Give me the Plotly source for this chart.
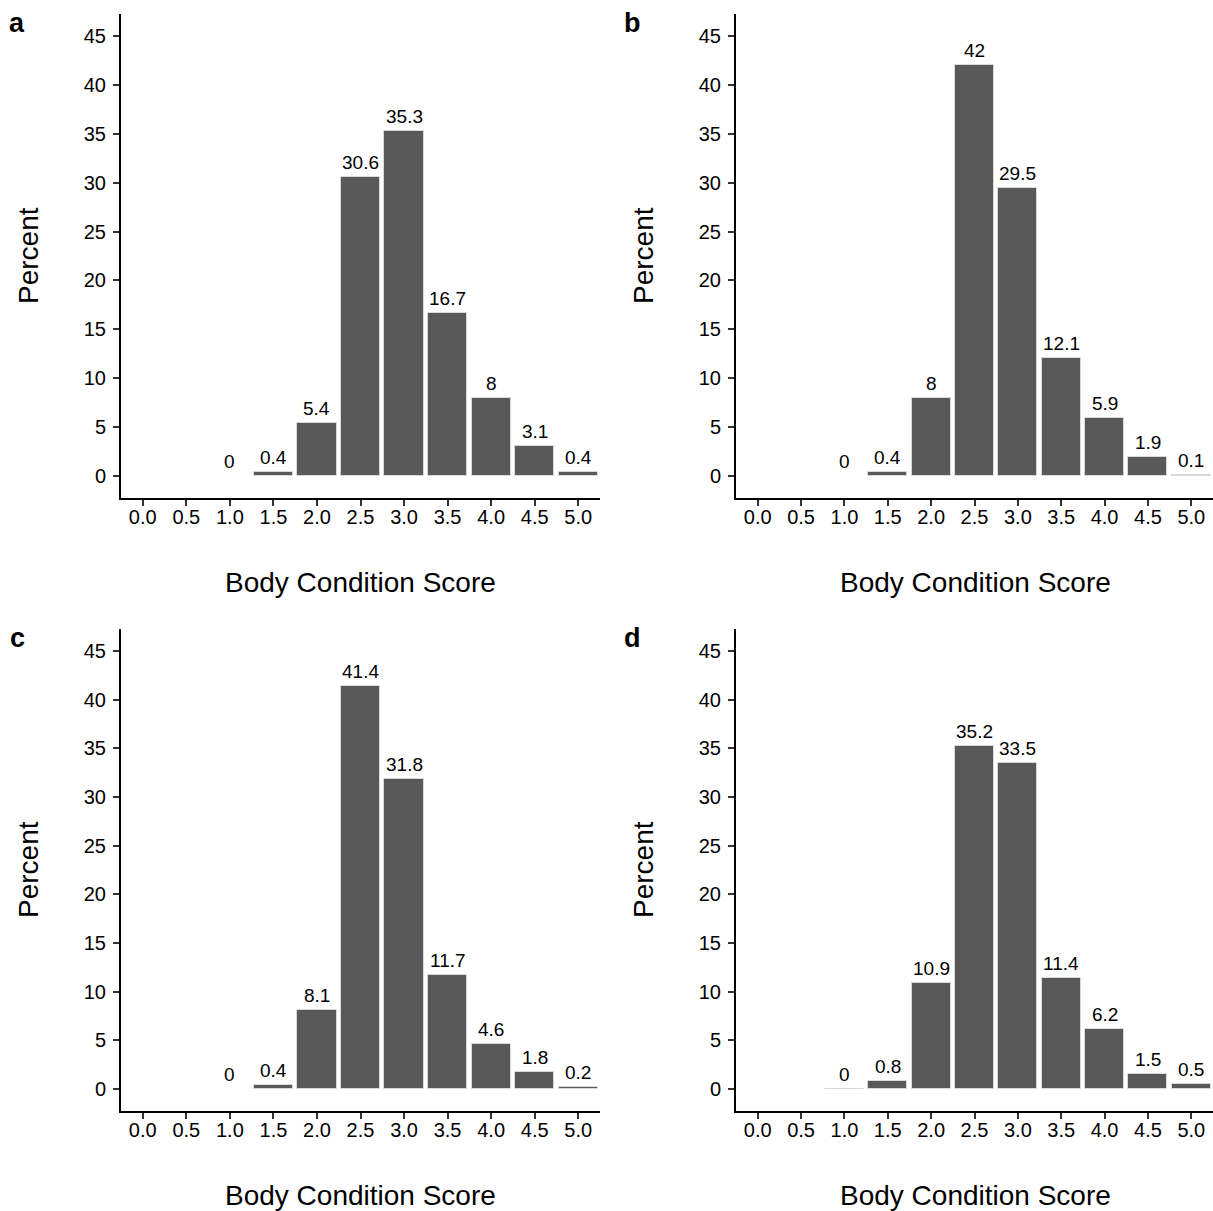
import plotly.graph_objects as go

W, H = 1213, 1211

scores = [1.0, 1.5, 2.0, 2.5, 3.0, 3.5, 4.0, 4.5, 5.0]
tick_vals = [0.0, 0.5, 1.0, 1.5, 2.0, 2.5, 3.0, 3.5, 4.0, 4.5, 5.0]
tick_text = ["0.0", "0.5", "1.0", "1.5", "2.0", "2.5", "3.0", "3.5", "4.0", "4.5", "5.0"]
y_ticks = [0, 5, 10, 15, 20, 25, 30, 35, 40, 45]

panel_a = [0, 0.4, 5.4, 30.6, 35.3, 16.7, 8, 3.1, 0.4]
panel_b = [0, 0.4, 8, 42, 29.5, 12.1, 5.9, 1.9, 0.1]
panel_c = [0, 0.4, 8.1, 41.4, 31.8, 11.7, 4.6, 1.8, 0.2]
panel_d = [0.04, 0.8, 10.9, 35.2, 33.5, 11.4, 6.2, 1.5, 0.5]

panels = [("a", panel_a), ("b", panel_b), ("c", panel_c), ("d", panel_d)]

FONT = "Liberation Sans, Arial, sans-serif"

# pixel geometry of each plotting panel: (left, right, top, bottom)
geom = [
    (121, 600, 14, 498),
    (736, 1213, 14, 498),
    (121, 600, 629, 1111),
    (736, 1213, 629, 1111),
]

fig = go.Figure()
annotations = []

def fmt(v):
    return f"{round(v, 1):g}"

for i, ((letter, vals), (l, r, t, b)) in enumerate(zip(panels, geom)):
    n = i + 1
    xa = "x" if n == 1 else f"x{n}"
    ya = "y" if n == 1 else f"y{n}"
    fig.add_trace(go.Bar(
        x=scores, y=vals, width=0.45,
        marker=dict(color="#595959",
                    line=dict(color="#d9d9d9",
                              width=[0 if v == 0 else 1 for v in vals])),
        xaxis=xa, yaxis=ya, showlegend=False, hoverinfo="x+y",
    ))
    for xv, yv in zip(scores, vals):
        annotations.append(dict(
            x=xv, y=yv, xref=xa, yref=ya, text=fmt(yv), showarrow=False,
            yanchor="bottom", xanchor="center", yshift=2,
            font=dict(family=FONT, size=19, color="black"),
        ))
    axis_common = dict(
        showline=True, linecolor="black", linewidth=2,
        ticks="outside", ticklen=6, tickwidth=1.5, tickcolor="#333333",
        showgrid=False, zeroline=False,
        tickfont=dict(family=FONT, size=20, color="black"),
    )
    fig.update_layout({
        ("xaxis" if n == 1 else f"xaxis{n}"): dict(
            domain=[l / W, r / W], anchor=ya, range=[-0.25, 5.25],
            tickvals=tick_vals, ticktext=tick_text,
            ticklabelstandoff=-6, **axis_common),
        ("yaxis" if n == 1 else f"yaxis{n}"): dict(
            domain=[1 - b / H, 1 - t / H], anchor=xa, range=[-2.25, 47.25],
            tickvals=y_ticks, ticklabelstandoff=3, **axis_common),
    })
    # panel letter
    annotations.append(dict(
        x=(l - 104) / W, y=1 - (t + 9) / H, xref="paper", yref="paper",
        text=f"<b>{letter}</b>", showarrow=False, xanchor="center", yanchor="middle",
        font=dict(family=FONT, size=27, color="black"),
    ))
    # y title
    annotations.append(dict(
        x=(l - 93) / W, y=1 - ((t + b) / 2) / H, xref="paper", yref="paper",
        text="Percent", textangle=-90, showarrow=False,
        xanchor="center", yanchor="middle",
        font=dict(family=FONT, size=28, color="black"),
    ))
    # x title
    annotations.append(dict(
        x=((l + r) / 2 + (1 if n % 2 == 0 else 0)) / W, y=1 - (b + 84) / H,
        xref="paper", yref="paper",
        text="Body Condition Score", showarrow=False,
        xanchor="center", yanchor="middle",
        font=dict(family=FONT, size=28, color="black"),
    ))

fig.update_layout(
    width=W, height=H, margin=dict(l=0, r=0, t=0, b=0),
    paper_bgcolor="white", plot_bgcolor="white",
    annotations=annotations, bargap=0,
)

fig.write_html(
    "out.html",
    config={"displayModeBar": False},
    post_script="document.body.style.margin='0';document.body.style.overflow='hidden';",
)
